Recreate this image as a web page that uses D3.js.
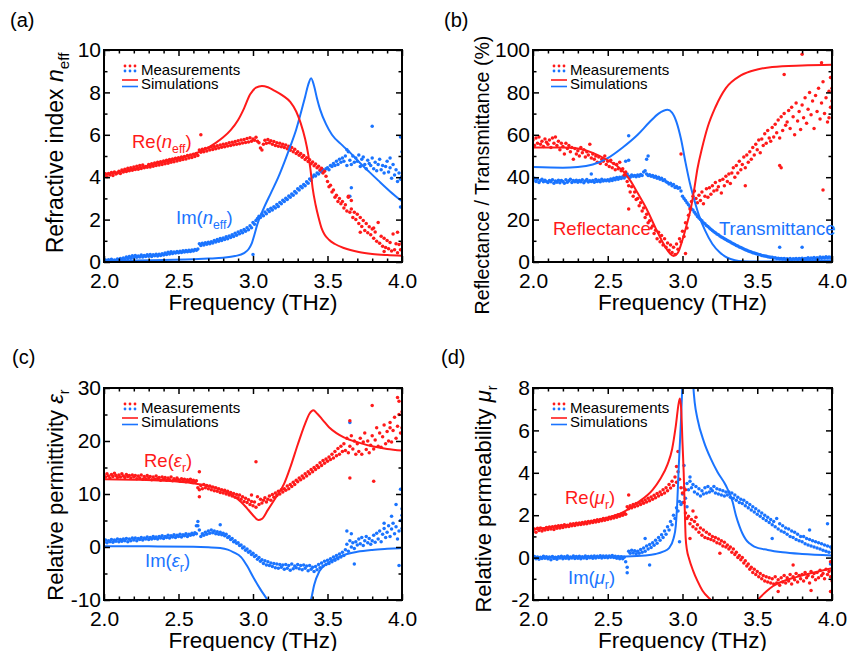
<!DOCTYPE html>
<html>
<head>
<meta charset="utf-8">
<script src="https://cdn.jsdelivr.net/npm/d3@7"></script>
<style>
  html, body { margin: 0; padding: 0; background: #fff; }
  svg { display: block; font-family: "Liberation Sans", Arial, sans-serif; }
</style>
</head>
<body>
<svg id="fig" width="848" height="651"></svg>
<script>
// ---------------------------------------------------------------------------
// Data
// ---------------------------------------------------------------------------
// Measured spectra are sampled on a regular grid: 2.00 ... 4.00 THz, 0.01 THz step.
const freqStart = 2.0;
const freqStep = 0.01;

const freqTicks = [2.0, 2.5, 3.0, 3.5, 4.0];
const freqMinorTicks = [2.1, 2.2, 2.3, 2.4, 2.6, 2.7, 2.8, 2.9, 3.1, 3.2, 3.3, 3.4, 3.6, 3.7, 3.8, 3.9];

const ticksA = [0, 2, 4, 6, 8, 10],      minorA = [1, 3, 5, 7, 9];
const ticksB = [0, 20, 40, 60, 80, 100], minorB = [10, 30, 50, 70, 90];
const ticksC = [-10, 0, 10, 20, 30],     minorC = [-5, 5, 15, 25];
const ticksD = [-2, 0, 2, 4, 6, 8],      minorD = [-1, 1, 3, 5, 7];

// (a) effective refractive index, measured
const nReMeas = [
  4.05, 4.16, 4.02, 4.18, 4.10, 4.22, 4.08, 4.24, 4.15, 4.20,
  4.28, 4.18, 4.34, 4.24, 4.38, 4.27, 4.42, 4.30, 4.45, 4.33,
  4.48, 4.36, 4.52, 4.38, 4.55, 4.41, 4.58, 4.44, 4.50, 4.47,
  4.60, 4.48, 4.64, 4.52, 4.67, 4.55, 4.70, 4.58, 4.73, 4.60,
  4.76, 4.63, 4.80, 4.66, 4.83, 4.70, 4.86, 4.73, 4.89, 4.76,
  4.92, 4.80, 4.95, 4.83, 4.98, 4.86, 5.02, 4.90, 5.05, 4.93,
  5.08, 4.98, 5.12, 5.02, 5.28, 5.18, 5.32, 5.20, 5.35, 5.24,
  5.38, 5.28, 5.42, 5.31, 5.45, 5.34, 5.48, 5.38, 5.52, 5.41,
  5.55, 5.44, 5.58, 5.47, 5.62, 5.50, 5.65, 5.53, 5.68, 5.56,
  5.72, 5.58, 5.75, 5.61, 5.78, 5.64, 5.82, 5.66, 5.86, 5.70,
  5.80, 5.74, 5.88, 5.70, 5.62, 5.38, 5.28, 5.55, 5.74, 5.60,
  5.78, 5.62, 5.72, 5.55, 5.68, 5.50, 5.62, 5.46, 5.60, 5.44,
  5.56, 5.40, 5.52, 5.34, 5.46, 5.27, 5.40, 5.20, 5.32, 5.12,
  5.20, 5.04, 5.12, 4.94, 5.02, 4.84, 4.92, 4.74, 4.82, 4.64,
  4.72, 4.54, 4.62, 4.44, 4.52, 4.34, 4.42, 4.20, 4.28, 4.05,
  3.80, 3.55, 3.62, 3.30, 3.40, 3.05, 3.15, 2.85, 3.00, 2.75,
  2.85, 2.55, 2.70, 2.40, 3.05, 2.35, 2.50, 2.10, 2.35, 2.00,
  2.25, 1.82, 2.10, 1.68, 1.96, 1.48, 1.82, 1.38, 1.66, 1.28,
  1.56, 1.12, 1.42, 0.98, 1.86, 0.88, 1.22, 0.74, 1.12, 0.68,
  1.02, 0.62, 0.92, 0.52, 1.32, 0.58, 0.86, 0.44, 0.82, 0.58,
  0.90
];
const nReExtra = [[2.65, 6.0], [3.64, 3.1], [3.66, 2.9], [3.72, 1.4], [3.81, 1.6], [3.88, 0.5], [3.97, 1.4]];

const nImMeas = [
  0.04, 0.09, 0.02, 0.11, 0.06, 0.13, 0.04, 0.10, 0.07, 0.14,
  0.09, 0.16, 0.10, 0.19, 0.12, 0.23, 0.16, 0.26, 0.18, 0.29,
  0.20, 0.31, 0.22, 0.28, 0.24, 0.33, 0.23, 0.31, 0.26, 0.34,
  0.27, 0.35, 0.26, 0.34, 0.29, 0.37, 0.28, 0.36, 0.31, 0.39,
  0.33, 0.43, 0.35, 0.46, 0.38, 0.48, 0.40, 0.47, 0.42, 0.49,
  0.44, 0.51, 0.45, 0.53, 0.47, 0.54, 0.48, 0.56, 0.50, 0.57,
  0.52, 0.59, 0.55, 0.61, 0.86, 0.78, 0.89, 0.80, 0.91, 0.84,
  0.93, 0.86, 0.96, 0.90, 1.01, 0.94, 1.06, 0.98, 1.11, 1.02,
  1.13, 1.06, 1.19, 1.10, 1.23, 1.15, 1.29, 1.20, 1.36, 1.26,
  1.41, 1.33, 1.47, 1.38, 1.53, 1.45, 1.61, 1.52, 1.71, 1.62,
  1.86, 1.78, 1.96, 2.05, 2.16, 2.10, 2.26, 2.18, 2.36, 2.28,
  2.46, 2.38, 2.53, 2.45, 2.61, 2.55, 2.71, 2.62, 2.81, 2.75,
  2.91, 2.85, 3.01, 2.95, 3.11, 3.05, 3.21, 3.15, 3.33, 3.25,
  3.46, 3.40, 3.56, 3.50, 3.66, 3.60, 3.79, 3.72, 3.91, 3.85,
  4.01, 4.10, 4.06, 4.20, 4.15, 4.30, 4.25, 4.35, 4.30, 4.40,
  4.45, 4.35, 4.55, 4.50, 4.65, 4.55, 4.75, 4.60, 4.85, 4.70,
  4.90, 4.75, 5.00, 4.55, 5.20, 4.80, 4.60, 5.00, 4.70, 4.90,
  4.75, 5.05, 4.50, 4.85, 4.95, 4.60, 4.40, 4.80, 4.65, 4.55,
  4.90, 4.40, 4.70, 4.30, 4.60, 4.85, 4.35, 4.55, 4.20, 4.50,
  4.75, 4.25, 4.45, 3.95, 4.60, 4.10, 4.35, 3.80, 4.20, 3.90,
  4.05
];
const nImExtra = [[3.00, 0.35], [3.63, 5.3], [3.65, 3.1], [3.66, 3.5], [3.80, 6.4], [3.99, 5.9], [4.00, 5.2], [3.99, 2.6], [3.92, 4.9]];

// (a) simulated
const nReSim = [
  [2.0, 4.1], [2.2, 4.4], [2.4, 4.7], [2.5, 4.87], [2.6, 5.08], [2.7, 5.4], [2.75, 5.62], [2.8, 5.88],
  [2.85, 6.22], [2.9, 6.7], [2.94, 7.25], [2.98, 7.9], [3.02, 8.22], [3.06, 8.3], [3.1, 8.24],
  [3.14, 8.1], [3.2, 7.85], [3.25, 7.55], [3.29, 7.1], [3.32, 6.55], [3.35, 5.8], [3.37, 5.1],
  [3.385, 4.4], [3.40, 3.5], [3.42, 2.7], [3.44, 2.1], [3.46, 1.6], [3.48, 1.3], [3.51, 1.05],
  [3.55, 0.85], [3.61, 0.66], [3.71, 0.47], [3.8, 0.38], [3.9, 0.33], [4.0, 0.3]
];
const nImSim = [
  [2.0, 0.05], [2.2, 0.07], [2.4, 0.1], [2.6, 0.13], [2.7, 0.16], [2.8, 0.2], [2.88, 0.28], [2.94, 0.42],
  [2.97, 0.6], [2.99, 0.85], [3.01, 1.3], [3.03, 1.8], [3.07, 2.5], [3.12, 3.25], [3.17, 4.0], [3.21, 4.7],
  [3.25, 5.45], [3.29, 6.25], [3.32, 7.0], [3.35, 7.8], [3.37, 8.35], [3.39, 8.67], [3.41, 8.3], [3.43, 7.7],
  [3.45, 7.2], [3.49, 6.5], [3.53, 6.0], [3.6, 5.5], [3.66, 5.1], [3.72, 4.66], [3.78, 4.25], [3.84, 3.85],
  [3.92, 3.33], [4.0, 2.86]
];

// (b) reflectance / transmittance (%), measured
const reflMeas = [
  57.5, 55.0, 58.5, 56.0, 59.0, 55.5, 57.0, 54.5, 58.0, 56.5,
  55.5, 57.5, 54.0, 58.5, 56.0, 59.0, 55.0, 57.0, 53.0, 56.0,
  54.5, 51.0, 56.0, 53.5, 55.0, 52.0, 54.0, 48.5, 53.5, 51.0,
  52.5, 50.0, 54.0, 51.5, 53.0, 49.5, 52.0, 50.5, 55.5, 49.0,
  51.0, 48.5, 50.0, 47.0, 49.5, 46.5, 48.5, 47.5, 50.0, 46.0,
  47.5, 45.0, 48.0, 44.5, 46.5, 43.5, 46.0, 44.0, 47.0, 43.0,
  44.0, 41.0, 42.5, 38.0, 36.0, 33.0, 35.5, 31.0, 33.0, 29.5,
  30.0, 26.5, 28.0, 24.0, 25.5, 21.0, 22.5, 18.5, 19.5, 16.0,
  17.0, 13.5, 15.0, 11.0, 14.0, 9.5, 12.5, 8.0, 11.0, 7.0,
  9.0, 5.5, 8.0, 4.5, 7.0, 3.5, 8.5, 6.0, 11.0, 9.5,
  14.5, 12.0, 18.5, 16.0, 22.0, 25.0, 28.5, 31.0, 33.5, 30.0,
  28.0, 31.5, 29.0, 33.0, 27.5, 31.0, 34.5, 30.5, 35.0, 32.0,
  36.0, 33.5, 37.5, 34.0, 35.5, 38.5, 32.5, 39.0, 36.0, 40.5,
  38.0, 41.5, 37.0, 42.0, 44.5, 40.0, 45.5, 42.0, 47.5, 43.5,
  46.0, 49.5, 44.5, 50.5, 47.0, 52.0, 48.5, 54.0, 50.5, 55.5,
  53.0, 57.5, 51.5, 58.0, 55.0, 60.5, 56.0, 62.0, 58.5, 57.0,
  63.5, 59.0, 65.0, 61.0, 67.0, 58.5, 68.5, 62.0, 70.0, 64.5,
  66.0, 71.5, 63.0, 73.0, 68.5, 60.0, 75.0, 66.5, 71.0, 62.5,
  74.0, 68.0, 77.5, 65.5, 72.0, 80.0, 69.5, 76.0, 63.0, 78.5,
  71.0, 82.0, 67.5, 75.0, 85.0, 70.0, 77.5, 66.0, 80.5, 73.0,
  76.0
];
const reflExtra = [[2.64, 25.0], [2.99, 51.0], [3.02, 4.0], [3.65, 45.5], [3.66, 44.5], [3.68, 88.5], [3.80, 98.0],
  [3.93, 94.0], [3.94, 34.0], [3.99, 87.0], [3.98, 68.0], [4.00, 82.0], [3.42, 36.0]];

const transMeas = [
  38.5, 39.5, 38.0, 39.0, 37.5, 38.5, 39.0, 37.8, 38.6, 38.0,
  37.5, 38.5, 37.8, 38.8, 37.2, 38.2, 37.6, 38.6, 37.4, 38.4,
  38.0, 37.2, 38.8, 37.6, 38.3, 39.0, 37.5, 38.4, 37.8, 38.6,
  37.6, 38.5, 37.9, 38.8, 37.4, 38.2, 38.9, 37.7, 38.3, 38.0,
  38.4, 37.6, 38.9, 38.0, 38.6, 37.8, 39.0, 38.2, 38.7, 38.3,
  38.8, 38.2, 39.2, 38.5, 39.5, 38.8, 39.8, 39.0, 40.0, 39.4,
  40.2, 39.6, 40.5, 41.5, 40.5, 40.0, 41.0, 40.4, 40.8, 40.2,
  41.0, 40.5, 41.3, 40.8, 42.5, 43.0, 41.5, 40.8, 41.2, 40.5,
  40.8, 40.0, 40.5, 39.5, 40.0, 39.0, 39.5, 38.5, 38.8, 37.8,
  37.5, 36.8, 37.2, 36.0, 36.5, 35.2, 35.6, 34.8, 35.0, 33.5,
  31.0, 30.0, 29.0, 28.0, 27.0, 26.0, 25.0, 24.5, 23.5, 22.5,
  21.5, 20.8, 20.0, 19.5, 18.5, 18.0, 17.2, 16.8, 16.0, 15.5,
  14.8, 14.3, 13.8, 13.2, 12.8, 12.3, 11.8, 11.4, 11.0, 10.6,
  10.2, 9.8, 9.4, 9.0, 8.6, 8.2, 7.8, 7.5, 7.1, 6.8,
  6.5, 6.1, 5.8, 5.5, 5.2, 4.9, 4.7, 4.4, 4.2, 4.0,
  3.8, 3.5, 3.4, 3.1, 3.0, 2.8, 2.7, 2.5, 2.4, 2.2,
  2.2, 1.9, 2.0, 1.7, 1.8, 1.5, 1.7, 1.4, 1.6, 1.3,
  1.5, 1.2, 1.6, 1.1, 1.5, 1.3, 1.7, 1.2, 1.6, 1.4,
  1.8, 1.3, 1.7, 1.5, 2.0, 1.4, 1.9, 1.6, 2.1, 1.5,
  2.0, 1.7, 2.3, 1.8, 2.2, 1.9, 2.5, 2.0, 2.4, 2.1,
  2.3
];
const transExtra = [[2.39, 41.5], [2.64, 59.5], [2.64, 48.0], [2.77, 50.0], [2.76, 48.5], [3.65, 7.0], [3.80, 7.0], [2.62, 47.5]];

// (b) simulated
const reflSim = [
  [2.0, 54], [2.2, 54], [2.3, 53.5], [2.4, 51.5], [2.5, 48], [2.6, 43], [2.65, 38.5], [2.7, 32.5],
  [2.76, 25], [2.82, 16], [2.87, 9], [2.91, 4.5], [2.94, 2.8], [2.97, 4.5], [3.0, 10.5], [3.03, 18],
  [3.055, 25], [3.08, 35], [3.1, 44], [3.13, 53.5], [3.17, 64], [3.22, 73], [3.29, 82], [3.39, 88],
  [3.5, 90.8], [3.6, 92], [3.8, 92.7], [4.0, 93]
];
const transSim = [
  [2.0, 44.8], [2.2, 44.5], [2.3, 44.8], [2.4, 46], [2.5, 49], [2.6, 54], [2.7, 60], [2.78, 66],
  [2.84, 70], [2.9, 71.8], [2.93, 70.5], [2.96, 66], [2.99, 58], [3.02, 47], [3.05, 37], [3.08, 29],
  [3.11, 22], [3.15, 15], [3.2, 8.5], [3.25, 4.5], [3.3, 2], [3.35, 0.8], [3.4, 0.3], [3.5, 0.2],
  [3.7, 0.3], [4.0, 0.8]
];

// (c) relative permittivity, measured
const epsReMeas = [
  13.6, 13.2, 13.8, 13.4, 13.0, 13.7, 13.3, 13.9, 13.5, 13.1,
  13.6, 13.2, 13.8, 13.4, 13.1, 13.7, 13.3, 13.5, 13.0, 13.6,
  13.2, 13.5, 12.9, 13.4, 13.0, 13.6, 12.8, 13.3, 12.9, 13.5,
  13.0, 13.3, 12.7, 13.2, 12.8, 13.4, 12.9, 13.1, 12.6, 13.2,
  12.8, 13.1, 12.6, 13.0, 12.7, 13.2, 12.5, 12.9, 12.6, 13.0,
  12.7, 12.4, 12.9, 12.5, 12.8, 12.3, 12.7, 12.4, 12.8, 12.3,
  12.6, 12.2, 12.5, 11.2, 10.8, 11.6, 11.0, 11.8, 11.2, 11.6,
  11.0, 11.5, 10.8, 11.3, 10.6, 11.2, 10.5, 11.0, 10.3, 10.8,
  10.2, 10.7, 10.0, 10.5, 9.8, 10.3, 9.6, 10.1, 9.4, 9.9,
  9.3, 9.8, 9.0, 9.5, 8.6, 9.2, 8.4, 8.9, 8.0, 8.6,
  7.8, 8.5, 7.5, 9.5, 8.0, 9.0, 8.3, 8.8, 9.3, 8.5,
  9.0, 9.6, 8.8, 9.9, 9.4, 10.2, 9.7, 10.5, 10.0, 10.8,
  10.4, 11.0, 10.7, 11.5, 11.0, 11.8, 11.4, 12.2, 11.8, 12.6,
  12.3, 13.0, 12.7, 13.4, 13.0, 13.8, 13.4, 14.2, 13.8, 14.6,
  14.2, 15.0, 14.6, 15.4, 15.0, 15.9, 15.4, 16.3, 15.8, 16.6,
  16.2, 17.0, 16.5, 17.5, 16.8, 18.0, 17.2, 18.6, 17.5, 19.0,
  18.0, 19.5, 18.2, 20.5, 17.8, 19.0, 21.0, 18.5, 20.0, 17.5,
  19.5, 18.0, 20.5, 17.5, 19.8, 21.5, 18.4, 20.0, 17.8, 19.2,
  21.0, 18.5, 20.2, 22.5, 19.0, 21.5, 18.8, 20.8, 23.0, 19.5,
  21.8, 20.0, 23.5, 19.8, 22.0, 24.5, 20.5, 22.8, 25.0, 21.5,
  22.5
];
const epsReExtra = [[2.64, 14.2], [2.64, 9.5], [3.02, 16.1], [3.65, 23.8], [3.65, 13.0], [3.80, 26.7], [3.81, 12.4],
  [3.97, 28.2], [3.98, 27.5], [4.00, 25.5], [3.92, 22.5], [2.99, 9.8]];

const epsImMeas = [
  0.9, 1.3, 0.8, 1.2, 1.0, 1.4, 0.9, 1.3, 1.1, 1.5,
  1.0, 1.4, 1.1, 1.5, 1.2, 1.6, 1.0, 1.5, 1.2, 1.7,
  1.3, 1.7, 1.2, 1.6, 1.4, 1.8, 1.3, 1.7, 1.5, 1.9,
  1.4, 1.8, 1.5, 2.0, 1.6, 1.9, 1.5, 2.0, 1.7, 2.1,
  1.6, 2.0, 1.8, 2.2, 1.7, 2.1, 1.9, 2.3, 1.8, 2.2,
  2.0, 2.4, 1.9, 2.3, 2.1, 2.5, 2.0, 2.4, 2.2, 2.6,
  2.3, 2.7, 2.5, 4.0, 3.2, 2.0, 2.5, 2.2, 2.8, 2.4,
  3.0, 2.6, 3.2, 2.7, 3.0, 2.5, 2.9, 2.4, 2.8, 2.3,
  2.6, 2.1, 2.4, 1.8, 2.0, 1.4, 1.6, 1.0, 1.2, 0.7,
  0.8, 0.3, 0.4, -0.2, 0.0, -0.6, -0.4, -1.0, -0.8, -1.4,
  -1.2, -1.8, -1.6, -2.3, -2.0, -2.7, -2.4, -3.1, -2.6, -3.4,
  -2.8, -3.5, -3.0, -3.7, -3.1, -3.9, -3.2, -4.0, -3.3, -3.8,
  -3.4, -4.2, -3.3, -4.0, -3.5, -4.4, -3.2, -4.1, -3.6, -3.9,
  -3.3, -4.1, -3.5, -4.3, -3.4, -4.0, -3.6, -4.5, -3.5, -4.2,
  -3.8, -4.6, -3.7, -4.3, -3.3, -3.9, -3.0, -3.6, -2.7, -3.3,
  -2.5, -3.1, -2.2, -2.8, -1.9, -2.5, -1.6, -2.2, -1.3, -1.9,
  -1.0, -1.6, -0.5, 0.5, -0.8, 1.2, 0.0, 0.8, -0.3, 1.0,
  0.4, 1.5, 0.6, 1.8, 0.3, 1.2, 2.0, 0.8, 1.6, 0.5,
  1.2, 2.2, 0.9, 2.6, 1.5, 3.0, 1.0, 2.4, 3.5, 1.8,
  2.8, 4.0, 2.0, 3.4, 4.5, 2.5, 3.8, 1.5, 3.0, 5.0,
  3.5
];
const epsImExtra = [[2.63, 4.8], [2.62, 4.0], [2.78, 4.2], [3.63, 3.0], [3.66, 2.5], [3.68, -3.2], [3.96, 8.0],
  [3.99, 10.9], [3.98, -3.5], [4.00, 7.2], [4.00, 6.0], [3.93, 5.8], [3.88, 4.5], [3.65, 23.5]];

// (c) simulated
const epsReSim = [
  [2.0, 12.8], [2.2, 12.7], [2.4, 12.5], [2.6, 12.0], [2.7, 11.5], [2.8, 10.6], [2.87, 9.6], [2.92, 8.5],
  [2.96, 7.3], [3.0, 6.0], [3.035, 5.1], [3.06, 5.3], [3.1, 7.0], [3.15, 9.2], [3.21, 12.0], [3.25, 15.0],
  [3.3, 19.3], [3.35, 23.3], [3.38, 25.2], [3.405, 25.8], [3.43, 25.2], [3.47, 23.9], [3.51, 22.6],
  [3.56, 21.5], [3.61, 20.7], [3.71, 19.7], [3.8, 19.0], [3.9, 18.5], [4.0, 18.2]
];
const epsImSim = [
  [2.0, 0.15], [2.3, 0.12], [2.6, 0.05], [2.7, -0.05], [2.78, -0.2], [2.83, -0.5], [2.87, -1.0],
  [2.92, -1.9], [2.963, -3.7], [3.0, -5.6], [3.05, -8.0], [3.097, -10.0], [3.15, -13], [3.22, -17],
  [3.3, -16], [3.36, -12.5], [3.389, -10.0], [3.411, -7.1], [3.445, -4.6], [3.5, -3.05], [3.56, -2.1],
  [3.61, -1.5], [3.7, -0.9], [3.8, -0.55], [3.9, -0.35], [4.0, -0.2]
];

// (d) relative permeability, measured
const muReMeas = [
  1.25, 1.35, 1.20, 1.38, 1.28, 1.40, 1.26, 1.36, 1.30, 1.42,
  1.32, 1.44, 1.35, 1.46, 1.33, 1.48, 1.38, 1.50, 1.40, 1.52,
  1.42, 1.55, 1.45, 1.53, 1.47, 1.58, 1.50, 1.60, 1.52, 1.62,
  1.55, 1.63, 1.56, 1.66, 1.58, 1.68, 1.60, 1.70, 1.63, 1.72,
  1.66, 1.75, 1.68, 1.78, 1.70, 1.80, 1.74, 1.84, 1.76, 1.86,
  1.80, 1.90, 1.83, 1.93, 1.87, 1.97, 1.90, 2.02, 1.95, 2.06,
  2.00, 2.12, 2.05, 2.40, 2.30, 2.45, 2.35, 2.50, 2.40, 2.55,
  2.45, 2.60, 2.50, 2.66, 2.56, 2.72, 2.62, 2.80, 2.68, 2.86,
  2.75, 2.94, 2.82, 3.02, 2.90, 3.10, 2.98, 3.20, 3.05, 3.30,
  3.15, 3.45, 3.28, 3.60, 3.40, 3.80, 3.55, 4.05, 3.70, 3.30,
  3.05, 2.60, 2.10, 1.85, 1.95, 1.60, 1.80, 1.45, 1.70, 1.35,
  1.55, 1.20, 1.40, 1.05, 1.30, 0.95, 1.20, 0.90, 1.10, 0.85,
  1.00, 0.80, 0.95, 0.70, 0.88, 0.65, 0.80, 0.55, 0.72, 0.50,
  0.60, 0.40, 0.50, 0.25, 0.40, 0.15, 0.25, 0.00, 0.10, -0.10,
  0.00, -0.25, -0.15, -0.40, -0.30, -0.55, -0.45, -0.70, -0.55, -0.80,
  -0.65, -0.90, -0.75, -1.00, -0.85, -1.10, -0.90, -1.15, -0.95, -1.20,
  -1.00, -1.25, -0.90, -1.20, -1.05, -1.30, -0.95, -1.15, -0.85, -1.20,
  -0.95, -1.10, -0.80, -1.25, -0.90, -1.05, -0.75, -1.15, -0.85, -1.00,
  -0.80, -1.10, -0.70, -0.95, -0.85, -1.20, -0.65, -0.90, -0.75, -1.05,
  -0.70, -0.95, -0.60, -0.85, -0.75, -1.00, -0.55, -0.80, -0.65, -0.90,
  -0.60
];
const muReExtra = [[2.64, 2.95], [2.97, 5.0], [2.96, 4.3], [3.02, 3.2], [3.07, 2.2], [3.09, 1.9], [3.05, 0.9],
  [3.25, 0.2], [3.99, -1.6], [3.99, -0.2], [4.00, -1.1], [3.74, -0.35], [3.86, -1.55], [3.64, -1.6]];

const muImMeas = [
  -0.02, 0.05, -0.05, 0.03, -0.08, 0.02, -0.04, 0.06, -0.03, 0.04,
  -0.06, 0.03, -0.10, 0.05, -0.04, 0.02, -0.08, 0.04, -0.02, 0.06,
  -0.05, 0.04, -0.03, 0.07, -0.06, 0.03, -0.02, 0.08, -0.04, 0.05,
  -0.03, 0.06, -0.05, 0.04, -0.02, 0.07, -0.04, 0.05, -0.01, 0.06,
  -0.03, 0.07, -0.02, 0.06, 0.00, 0.09, -0.02, 0.08, 0.01, 0.07,
  -0.01, 0.08, 0.02, 0.10, 0.00, 0.06, -0.03, 0.05, -0.06, 0.04,
  -0.05, 0.02, -0.20, -0.45, 0.30, 0.20, 0.35, 0.22, 0.32, 0.18,
  0.30, 0.20, 0.38, 0.25, 0.45, 0.30, 0.55, 0.40, 0.62, 0.48,
  0.70, 0.58, 0.82, 0.68, 0.95, 0.82, 1.08, 0.95, 1.25, 1.10,
  1.45, 1.30, 1.70, 1.55, 2.00, 1.85, 2.35, 2.20, 2.65, 2.50,
  3.00, 3.30, 2.80, 3.50, 3.20, 3.60, 3.30, 3.45, 3.10, 3.35,
  3.00, 3.25, 2.90, 3.15, 3.00, 3.30, 3.05, 3.35, 3.10, 3.25,
  3.15, 3.35, 3.05, 3.25, 3.00, 3.20, 2.95, 3.15, 2.90, 3.10,
  2.95, 3.10, 2.85, 3.05, 2.80, 2.95, 2.70, 2.85, 2.60, 2.75,
  2.55, 2.70, 2.45, 2.60, 2.35, 2.50, 2.25, 2.40, 2.15, 2.30,
  2.05, 2.20, 1.95, 2.10, 1.85, 2.00, 1.75, 1.90, 1.65, 1.80,
  1.55, 1.70, 1.45, 1.85, 1.35, 1.60, 1.25, 1.50, 1.20, 1.40,
  1.10, 1.35, 1.00, 1.25, 0.95, 1.20, 0.85, 1.10, 0.80, 1.00,
  0.75, 1.00, 0.65, 0.90, 0.60, 0.85, 0.55, 0.80, 0.50, 0.75,
  0.45, 0.70, 0.40, 0.65, 0.35, 0.60, 0.30, 0.55, 0.25, 0.50,
  0.40
];
const muImExtra = [[2.63, -0.72], [2.78, -0.35], [2.75, 0.9], [2.98, 0.75], [3.01, 4.35], [3.05, 3.8], [3.03, 2.4],
  [3.97, 1.6], [3.99, -0.3], [3.00, 2.6], [3.60, 0.9], [3.85, 1.3]];

// (d) simulated
const muReSim = [
  [2.0, 1.33], [2.2, 1.5], [2.4, 1.72], [2.5, 1.88], [2.6, 2.13], [2.7, 2.6], [2.8, 3.2], [2.85, 3.7],
  [2.9, 4.4], [2.93, 5.1], [2.955, 6.2], [2.975, 7.3], [2.983, 7.5], [2.992, 6.9], [3.0, 5.4], [3.008, 4.0],
  [3.015, 2.3], [3.021, 0.95], [3.03, 0.35], [3.044, -0.05], [3.07, -0.6], [3.1, -1.1], [3.133, -1.55],
  [3.19, -2.0], [3.25, -2.4], [3.32, -2.7], [3.4, -2.7], [3.46, -2.4], [3.503, -2.0], [3.56, -1.6],
  [3.604, -1.35], [3.67, -1.12], [3.76, -0.92], [3.88, -0.7], [4.0, -0.5]
];
const muImSim = [
  [2.0, 0.0], [2.3, 0.02], [2.6, 0.05], [2.75, 0.1], [2.82, 0.17], [2.87, 0.28], [2.91, 0.45], [2.94, 0.9],
  [2.955, 1.5], [2.965, 2.6], [2.975, 4.3], [2.99, 6.5], [3.0, 8.3], [3.02, 11], [3.04, 12], [3.06, 10],
  [3.073, 8.0], [3.082, 7.3], [3.1, 6.55], [3.144, 5.45], [3.189, 4.67], [3.234, 4.04], [3.29, 3.4],
  [3.335, 2.63], [3.357, 2.0], [3.38, 1.5], [3.4, 1.15], [3.424, 0.85], [3.45, 0.66], [3.48, 0.52],
  [3.57, 0.36], [3.67, 0.25], [3.8, 0.17], [4.0, 0.1]
];

// ---------------------------------------------------------------------------
// Styles
// ---------------------------------------------------------------------------
const RED = "#ff1a1a";
const BLUE = "#1a74ff";
const FONT = "'Liberation Sans', Arial, sans-serif";
const DOT_R = 1.75;

const panels = [
  {
    id: "a", letter: "(a)", letterPos: [10, 27],
    left: 104, top: 50, right: 402, bottom: 262,
    yDomain: [0, 10], yTicks: ticksA, yMinor: minorA,
    yTitle: [{ t: "Refractive index " }, { t: "n", it: true }, { t: "eff", sub: true }],
    yTitleX: 63, yTitleY: 153, yTitleSize: 23,
    meas: [{ v: nImMeas, extra: nImExtra, c: BLUE }, { v: nReMeas, extra: nReExtra, c: RED }],
    sims: [{ d: nImSim, c: BLUE }, { d: nReSim, c: RED }],
    notes: [
      { x: 132, y: 148, c: RED, parts: [{ t: "Re(" }, { t: "n", it: true }, { t: "eff", sub: true }, { t: ")" }] },
      { x: 176, y: 224, c: BLUE, parts: [{ t: "Im(" }, { t: "n", it: true }, { t: "eff", sub: true }, { t: ")" }] }
    ]
  },
  {
    id: "b", letter: "(b)", letterPos: [444, 27],
    left: 533, top: 50, right: 832, bottom: 262,
    yDomain: [0, 100], yTicks: ticksB, yMinor: minorB,
    yTitle: [{ t: "Reflectance / Transmittance (%)" }],
    yTitleX: 489, yTitleY: 175, yTitleSize: 19.6,
    meas: [{ v: transMeas, extra: transExtra, c: BLUE }, { v: reflMeas, extra: reflExtra, c: RED }],
    sims: [{ d: transSim, c: BLUE }, { d: reflSim, c: RED }],
    notes: [
      { x: 553, y: 235, c: RED, parts: [{ t: "Reflectance" }] },
      { x: 719, y: 235, c: BLUE, parts: [{ t: "Transmittance" }] }
    ]
  },
  {
    id: "c", letter: "(c)", letterPos: [12, 364],
    left: 104, top: 388, right: 402, bottom: 600,
    yDomain: [-10, 30], yTicks: ticksC, yMinor: minorC,
    yTitle: [{ t: "Relative permittivity " }, { t: "\u03B5", it: true }, { t: "r", sub: true }],
    yTitleX: 63, yTitleY: 495, yTitleSize: 22,
    meas: [{ v: epsImMeas, extra: epsImExtra, c: BLUE }, { v: epsReMeas, extra: epsReExtra, c: RED }],
    sims: [{ d: epsImSim, c: BLUE }, { d: epsReSim, c: RED }],
    notes: [
      { x: 144, y: 467, c: RED, parts: [{ t: "Re(" }, { t: "\u03B5", it: true }, { t: "r", sub: true }, { t: ")" }] },
      { x: 145, y: 567, c: BLUE, parts: [{ t: "Im(" }, { t: "\u03B5", it: true }, { t: "r", sub: true }, { t: ")" }] }
    ]
  },
  {
    id: "d", letter: "(d)", letterPos: [441, 364],
    left: 533, top: 388, right: 832, bottom: 600,
    yDomain: [-2, 8], yTicks: ticksD, yMinor: minorD,
    yTitle: [{ t: "Relative permeability " }, { t: "\u03BC", it: true }, { t: "r", sub: true }],
    yTitleX: 491, yTitleY: 499, yTitleSize: 22,
    meas: [{ v: muImMeas, extra: muImExtra, c: BLUE }, { v: muReMeas, extra: muReExtra, c: RED }],
    sims: [{ d: muImSim, c: BLUE }, { d: muReSim, c: RED }],
    notes: [
      { x: 565, y: 504, c: RED, parts: [{ t: "Re(" }, { t: "\u03BC", it: true }, { t: "r", sub: true }, { t: ")" }] },
      { x: 568, y: 584, c: BLUE, parts: [{ t: "Im(" }, { t: "\u03BC", it: true }, { t: "r", sub: true }, { t: ")" }] }
    ]
  }
];

// ---------------------------------------------------------------------------
// Drawing
// ---------------------------------------------------------------------------
const svg = d3.select("#fig");
svg.append("rect").attr("width", 848).attr("height", 651).attr("fill", "#fff");
const defs = svg.append("defs");

// text made of runs: plain, italic, subscript
function richText(sel, parts, size) {
  let shifted = false;
  parts.forEach(p => {
    const ts = sel.append("tspan").text(p.t);
    if (p.it) ts.attr("font-style", "italic");
    if (p.sub) {
      ts.attr("font-size", size * 0.66);
      if (!shifted) { ts.attr("dy", size * 0.26); shifted = true; }
    } else if (shifted) {
      ts.attr("dy", -size * 0.26); shifted = false;
    }
  });
}

function styleAxis(g, size) {
  g.select(".domain").remove();
  g.attr("font-family", FONT).attr("font-size", size);
  g.selectAll(".tick line").attr("stroke", "#000").attr("stroke-width", 1.5);
  g.selectAll(".tick text").attr("fill", "#000");
}

function drawPanel(p) {
  const x = d3.scaleLinear().domain([2, 4]).range([p.left, p.right]);
  const y = d3.scaleLinear().domain(p.yDomain).range([p.bottom, p.top]);
  const g = svg.append("g").attr("class", "panel-" + p.id);

  defs.append("clipPath").attr("id", "clip-" + p.id)
    .append("rect")
    .attr("x", p.left).attr("y", p.top)
    .attr("width", p.right - p.left).attr("height", p.bottom - p.top);

  const plot = g.append("g").attr("clip-path", `url(#clip-${p.id})`);

  // measured points
  p.meas.forEach(m => {
    const pts = m.v.map((v, i) => [freqStart + i * freqStep, v]).concat(m.extra);
    plot.append("g").attr("fill", m.c)
      .selectAll("circle").data(pts).join("circle")
      .attr("cx", d => x(d[0])).attr("cy", d => y(d[1])).attr("r", DOT_R);
  });

  // simulated curves
  const line = d3.line().x(d => x(d[0])).y(d => y(d[1])).curve(d3.curveMonotoneX);
  p.sims.forEach(s => {
    plot.append("path").attr("d", line(s.d))
      .attr("fill", "none").attr("stroke", s.c).attr("stroke-width", 2);
  });

  // axes: inward ticks on all four sides
  const fmtX = d3.format(".1f");
  const fmtY = d => String(d);
  styleAxis(g.append("g").attr("transform", `translate(0,${p.bottom})`)
    .call(d3.axisBottom(x).tickValues(freqTicks).tickSize(-6).tickPadding(11).tickFormat(fmtX)), 21);
  styleAxis(g.append("g").attr("transform", `translate(0,${p.bottom})`)
    .call(d3.axisBottom(x).tickValues(freqMinorTicks).tickSize(-3.5).tickFormat("")), 21);
  styleAxis(g.append("g").attr("transform", `translate(0,${p.top})`)
    .call(d3.axisTop(x).tickValues(freqTicks).tickSize(-6).tickFormat("")), 21);
  styleAxis(g.append("g").attr("transform", `translate(0,${p.top})`)
    .call(d3.axisTop(x).tickValues(freqMinorTicks).tickSize(-3.5).tickFormat("")), 21);
  styleAxis(g.append("g").attr("transform", `translate(${p.left},0)`)
    .call(d3.axisLeft(y).tickValues(p.yTicks).tickSize(-6).tickPadding(3).tickFormat(fmtY)), 21);
  styleAxis(g.append("g").attr("transform", `translate(${p.left},0)`)
    .call(d3.axisLeft(y).tickValues(p.yMinor).tickSize(-3.5).tickFormat("")), 21);
  styleAxis(g.append("g").attr("transform", `translate(${p.right},0)`)
    .call(d3.axisRight(y).tickValues(p.yTicks).tickSize(-6).tickFormat("")), 21);
  styleAxis(g.append("g").attr("transform", `translate(${p.right},0)`)
    .call(d3.axisRight(y).tickValues(p.yMinor).tickSize(-3.5).tickFormat("")), 21);

  // frame
  g.append("rect")
    .attr("x", p.left).attr("y", p.top)
    .attr("width", p.right - p.left).attr("height", p.bottom - p.top)
    .attr("fill", "none").attr("stroke", "#000").attr("stroke-width", 2);

  // axis titles
  g.append("text")
    .attr("x", (p.left + p.right) / 2).attr("y", p.bottom + 48)
    .attr("text-anchor", "middle").attr("font-size", 22.5).attr("fill", "#000")
    .text("Frequency (THz)");

  const yt = g.append("text")
    .attr("transform", `translate(${p.yTitleX},${p.yTitleY}) rotate(-90)`)
    .attr("text-anchor", "middle").attr("font-size", p.yTitleSize).attr("fill", "#000");
  richText(yt, p.yTitle, p.yTitleSize);

  // panel letter
  g.append("text").attr("x", p.letterPos[0]).attr("y", p.letterPos[1])
    .attr("font-size", 20).attr("fill", "#000").text(p.letter);

  // legend
  const lx = p.left, ly = p.top;
  const lg = g.append("g");
  [[RED, 16], [BLUE, 21]].forEach(([c, dy]) => {
    [21, 26, 31].forEach(dx => {
      lg.append("circle").attr("cx", lx + dx).attr("cy", ly + dy).attr("r", 1.4).attr("fill", c);
    });
  });
  lg.append("text").attr("x", lx + 37).attr("y", ly + 24.5).attr("font-size", 15).attr("fill", "#000").text("Measurements");
  lg.append("line").attr("x1", lx + 18).attr("x2", lx + 34).attr("y1", ly + 30).attr("y2", ly + 30)
    .attr("stroke", RED).attr("stroke-width", 1.6);
  lg.append("line").attr("x1", lx + 18).attr("x2", lx + 34).attr("y1", ly + 36.5).attr("y2", ly + 36.5)
    .attr("stroke", BLUE).attr("stroke-width", 1.6);
  lg.append("text").attr("x", lx + 37).attr("y", ly + 39).attr("font-size", 15).attr("fill", "#000").text("Simulations");

  // curve annotations
  p.notes.forEach(n => {
    const t = g.append("text").attr("x", n.x).attr("y", n.y).attr("font-size", 18.5).attr("fill", n.c);
    richText(t, n.parts, 18.5);
  });
}

panels.forEach(drawPanel);
</script>
</body>
</html>
